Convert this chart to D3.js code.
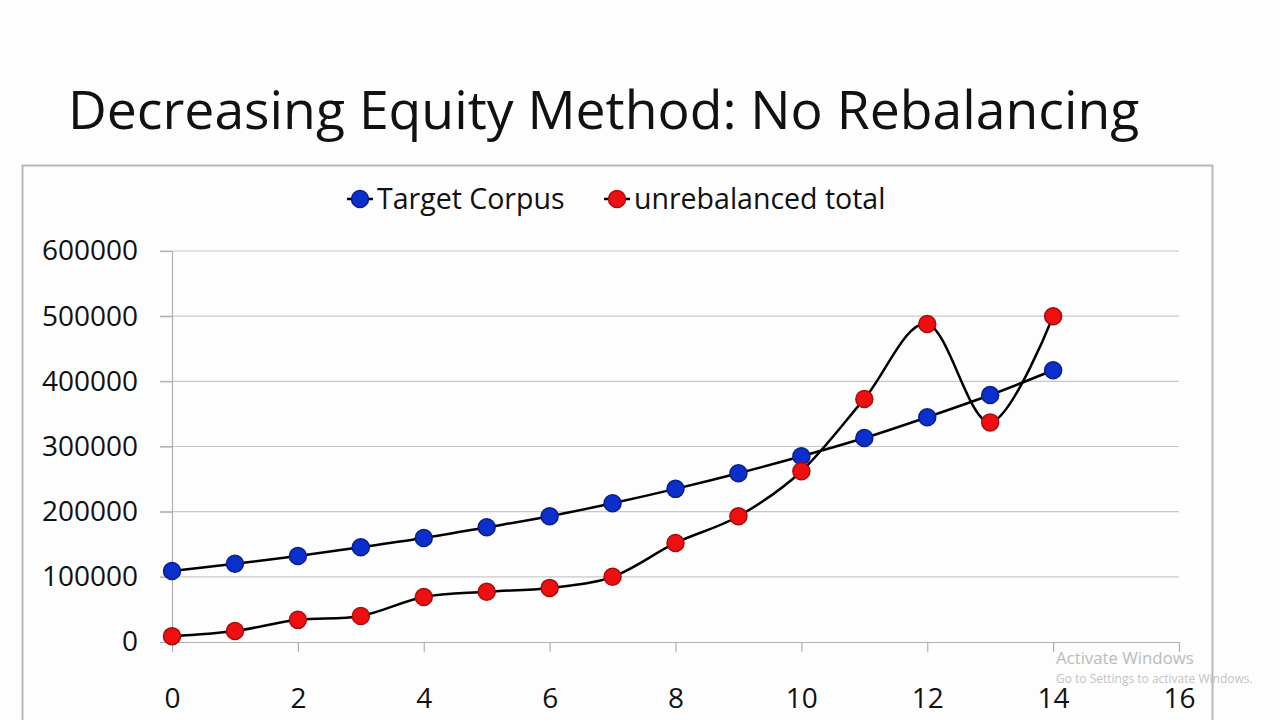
<!DOCTYPE html>
<html>
<head>
<meta charset="utf-8">
<script src="https://cdn.jsdelivr.net/npm/d3@7"></script>
<style>
  body { margin: 0; background: #fdfdfd; }
  svg { display: block; }
</style>
</head>
<body>
<svg></svg>
<script>
const [WIDTH, HEIGHT] = [1280, 720]

const years = [0, 1, 2, 3, 4, 5, 6, 7, 8, 9, 10, 11, 12, 13, 14]
const targetCorpus = [109000, 120000, 132000, 145500, 159500, 176000, 193000, 213000, 235000, 259000, 285000, 313000, 345000, 379000, 417000]
const unrebalanced = [9000, 17000, 34000, 40000, 69000, 77000, 83000, 100000, 152000, 193000, 262000, 373000, 488000, 337000, 500000]
const yTicks = [0, 100000, 200000, 300000, 400000, 500000, 600000]
const xTicks = [0, 2, 4, 6, 8, 10, 12, 14, 16]
const seriesNames = ['Target Corpus', 'unrebalanced total']
const seriesColors = [['#0a2fcc', '#0a1f8a'], ['#ee1010', '#a80c0c']]

const FONT = '"Open Sans", Lato, sans-serif'

const svg = d3.select('svg')
    .attr('width', WIDTH)
    .attr('height', HEIGHT)

// title
svg.append('text')
    .attr('x', 68)
    .attr('y', 129)
    .attr('font-family', FONT)
    .attr('font-size', 53.5)
    .attr('fill', '#111')
    .text('Decreasing Equity Method: No Rebalancing')

// chart frame
svg.append('rect')
    .attr('x', 22.5).attr('y', 165.5)
    .attr('width', 1190).attr('height', 600)
    .attr('fill', '#fcfdfc')
    .attr('stroke', '#b8b8b8')
    .attr('stroke-width', 2)

const x = d3.scaleLinear().domain([0, 16]).range([172, 1179])
const y = d3.scaleLinear().domain([0, 600000]).range([642, 251])

// gridlines
svg.append('g')
    .selectAll('line')
    .data(yTicks.filter(d => d > 0))
    .join('line')
    .attr('x1', x(0) - 12).attr('x2', x(16))
    .attr('y1', d => y(d)).attr('y2', d => y(d))
    .attr('stroke', '#c8c8c8')
    .attr('stroke-width', 1.2)

// y axis
const yAxis = svg.append('g')
    .attr('transform', `translate(${x(0)},0)`)
    .call(d3.axisLeft(y).tickValues(yTicks).tickSize(12).tickPadding(22).tickFormat(d3.format('d')))
yAxis.select('.domain').attr('stroke', '#b0b0b0').attr('stroke-width', 1.2)
yAxis.selectAll('.tick line').attr('stroke', '#b0b0b0').attr('stroke-width', 1.2)
yAxis.selectAll('.tick text')
    .attr('font-family', FONT).attr('font-size', 28).attr('fill', '#111')

// x axis
const xAxis = svg.append('g')
    .attr('transform', `translate(0,${y(0)})`)
    .call(d3.axisBottom(x).tickValues(xTicks).tickSize(10).tickPadding(36).tickSizeOuter(0))
xAxis.select('.domain').attr('stroke', '#b0b0b0').attr('stroke-width', 1.2)
xAxis.selectAll('.tick line').attr('stroke', '#b0b0b0').attr('stroke-width', 1.2)
xAxis.selectAll('.tick text')
    .attr('font-family', FONT).attr('font-size', 28).attr('fill', '#111')

// lines + markers
const line = d3.line()
    .x((d, i) => x(years[i]))
    .y(d => y(d))
    .curve(d3.curveCardinal.tension(0))

const allSeries = [targetCorpus, unrebalanced]
allSeries.forEach((vals, s) => {
    svg.append('path')
        .datum(vals)
        .attr('d', line)
        .attr('fill', 'none')
        .attr('stroke', '#000')
        .attr('stroke-width', 2.5)
})
allSeries.forEach((vals, s) => {
    svg.append('g')
        .selectAll('circle')
        .data(vals)
        .join('circle')
        .attr('cx', (d, i) => x(years[i]))
        .attr('cy', d => y(d))
        .attr('r', 8.5)
        .attr('fill', seriesColors[s][0])
        .attr('stroke', seriesColors[s][1])
        .attr('stroke-width', 1.5)
})

// legend
const legendX = [347, 604]
const legend = svg.append('g')
    .selectAll('g')
    .data(seriesNames)
    .join('g')
    .attr('transform', (d, i) => `translate(${legendX[i]},199)`)
legend.append('line')
    .attr('x1', 0).attr('x2', 26)
    .attr('stroke', '#000').attr('stroke-width', 2.5)
legend.append('circle')
    .attr('cx', 13).attr('r', 8.5)
    .attr('fill', (d, i) => seriesColors[i][0])
    .attr('stroke', (d, i) => seriesColors[i][1])
    .attr('stroke-width', 1.5)
legend.append('text')
    .attr('x', 30).attr('dy', '0.35em')
    .attr('font-family', FONT).attr('font-size', 28.5).attr('fill', '#111')
    .text(d => d)

// watermark
svg.append('text')
    .attr('x', 1056).attr('y', 664)
    .attr('font-family', '"Open Sans", sans-serif').attr('font-size', 16.8)
    .attr('fill', '#bbbbbb')
    .text('Activate Windows')
svg.append('text')
    .attr('x', 1056).attr('y', 683)
    .attr('font-family', '"Open Sans", sans-serif').attr('font-size', 12)
    .attr('fill', '#c4c4c4')
    .text('Go to Settings to activate Windows.')
</script>
</body>
</html>
